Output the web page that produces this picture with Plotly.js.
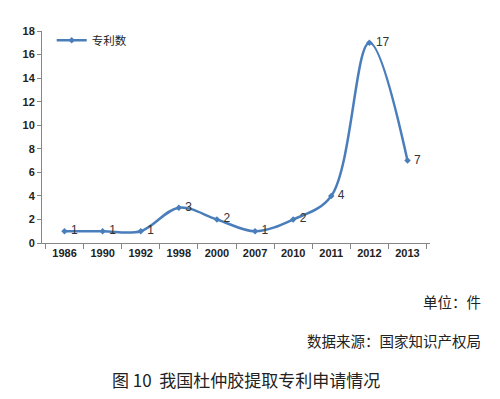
<!DOCTYPE html>
<html><head><meta charset="utf-8">
<script src="https://cdn.plot.ly/plotly-3.0.1.min.js"></script>
<style>body{margin:0;background:#fff}#c{width:500px;height:399px}</style>
</head><body><div id="c"></div>
<script>
const years = ['1986','1990','1992','1998','2000','2007','2010','2011','2012','2013'];
const patents = [1,1,1,3,2,1,2,4,17,7];
const yTicks = [0,2,4,6,8,10,12,14,16,18];
const seriesName = '专利数';
const unitText = '单位：件';
const sourceText = '数据来源：国家知识产权局';
const captionText = '图 10  我国杜仲胶提取专利申请情况';

const blue = '#4A7EBB';
const cjk = '"Noto Sans CJK SC", sans-serif';
const tickFont = {family: 'Liberation Sans, Arial, sans-serif', size: 11, color: '#222', weight: 'bold'};
const trace = {
  x: years, y: patents, type: 'scatter', mode: 'lines+markers+text',
  name: seriesName,
  line: {color: blue, width: 2.5, shape: 'spline', smoothing: 1.0},
  marker: {color: blue, size: 5, symbol: 'diamond'},
  text: patents.map(v => '\u2009' + v), textposition: 'middle right',
  textfont: {family: 'Liberation Sans, Arial, sans-serif', size: 12, color: '#333'},
  cliponaxis: false
};
const layout = {
  width: 500, height: 399,
  margin: {l: 42, r: 70, t: 31, b: 156},
  paper_bgcolor: '#fff', plot_bgcolor: '#fff',
  showlegend: true,
  legend: {x: 0.025, y: 1.025, xanchor: 'left', yanchor: 'top', bgcolor: 'rgba(0,0,0,0)',
    font: {family: cjk, size: 11.5, color: '#222'}},
  xaxis: {type: 'category', tickson: 'boundaries', ticks: 'outside', ticklen: 5,
    tickcolor: '#868686', showline: true, linecolor: '#868686', linewidth: 1,
    showgrid: false, zeroline: false, tickfont: tickFont},
  yaxis: {range: [0, 18], tickvals: yTicks, ticks: 'outside', ticklen: 4,
    tickcolor: '#868686', showline: true, linecolor: '#868686', linewidth: 1,
    showgrid: false, zeroline: false, tickfont: tickFont},
  annotations: [
    {text: unitText, xref: 'paper', yref: 'paper', x: 1.137, y: -0.278, xanchor: 'right', yanchor: 'middle',
      showarrow: false, font: {family: cjk, size: 14.5, color: '#222'}},
    {text: sourceText, xref: 'paper', yref: 'paper', x: 1.137, y: -0.462, xanchor: 'right', yanchor: 'middle',
      showarrow: false, font: {family: cjk, size: 14.5, color: '#222'}},
    {text: captionText, xref: 'paper', yref: 'paper', x: 0.526, y: -0.646, xanchor: 'center', yanchor: 'middle',
      showarrow: false, font: {family: cjk, size: 17, color: '#222'}}
  ]
};
Plotly.newPlot('c', [trace], layout, {displayModeBar: false, staticPlot: true});
</script></body></html>
